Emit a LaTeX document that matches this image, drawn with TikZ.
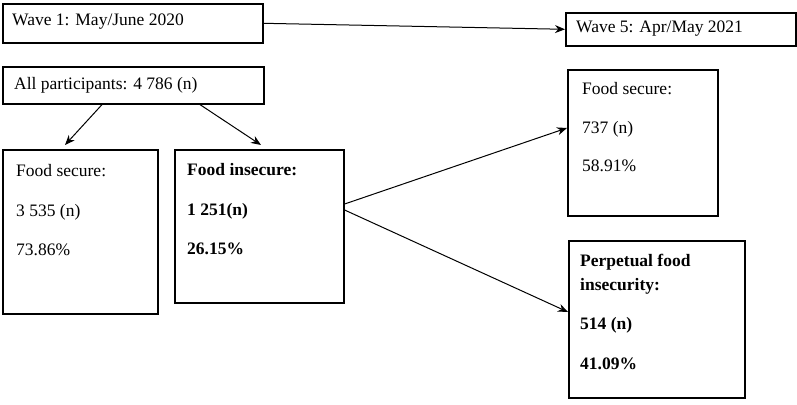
\documentclass[tikz,border=0pt]{standalone}
\usepackage{fontspec}
\setmainfont{Liberation Serif}
\usetikzlibrary{arrows.meta}
\begin{document}
\begin{tikzpicture}[x=1pt,y=-1pt,
 box/.style={draw,line width=1.6pt,inner sep=0pt},
 txt/.style={anchor=west,inner sep=0pt,font=\fontsize{17.5}{21}\selectfont},
 btxt/.style={txt,font=\fontsize{17.5}{21}\selectfont\bfseries},
 arr/.style={-{Stealth[length=10pt,width=8pt]},line width=1pt}]
\useasboundingbox (0,0) rectangle (797,404);
\node[box,minimum width=260,minimum height=39,anchor=north west] (w1) at (2,3) {};
\node[txt] at (12,22) {Wave 1: May/June 2020};
\node[box,minimum width=230,minimum height=33,anchor=north west] (w5) at (565,12) {};
\node[txt] at (576,29) {Wave 5: Apr/May 2021};
\node[box,minimum width=261,minimum height=37,anchor=north west] (all) at (2,66) {};
\node[txt] at (14,85) {All participants: 4 786 (n)};
\node[box,minimum width=155,minimum height=164,anchor=north west] (fs) at (2,149) {};
\node[txt] at (16,171) {Food secure:};
\node[txt] at (16,212) {3 535 (n)};
\node[txt] at (16,250) {73.86\%};
\node[box,minimum width=169,minimum height=153,anchor=north west] (fi) at (174,149) {};
\node[btxt] at (187,170) {Food insecure:};
\node[btxt] at (187,211) {1 251(n)};
\node[btxt] at (187,249) {26.15\%};
\node[box,minimum width=150,minimum height=146,anchor=north west] (fs2) at (567,69) {};
\node[txt] at (582,89) {Food secure:};
\node[txt] at (582,129) {737 (n)};
\node[txt] at (582,166) {58.91\%};
\node[box,minimum width=176,minimum height=157,anchor=north west] (pf) at (568,240) {};
\node[btxt] at (580,262) {Perpetual food};
\node[btxt] at (580,286) {insecurity:};
\node[btxt] at (580,325) {514 (n)};
\node[btxt] at (580,364) {41.09\%};
\draw[arr] (w1.east) -- (w5.west);
\draw[arr] ([xshift=100]all.south west) -- ([xshift=63,yshift=4]fs.north west);
\draw[arr] ([xshift=198]all.south west) -- ([xshift=87,yshift=4]fi.north west);
\draw[arr] ([yshift=-55]fi.north east) -- ([yshift=-59]fs2.north west);
\draw[arr] ([yshift=-61]fi.north east) -- ([yshift=-72]pf.north west);
\end{tikzpicture}
\end{document}
